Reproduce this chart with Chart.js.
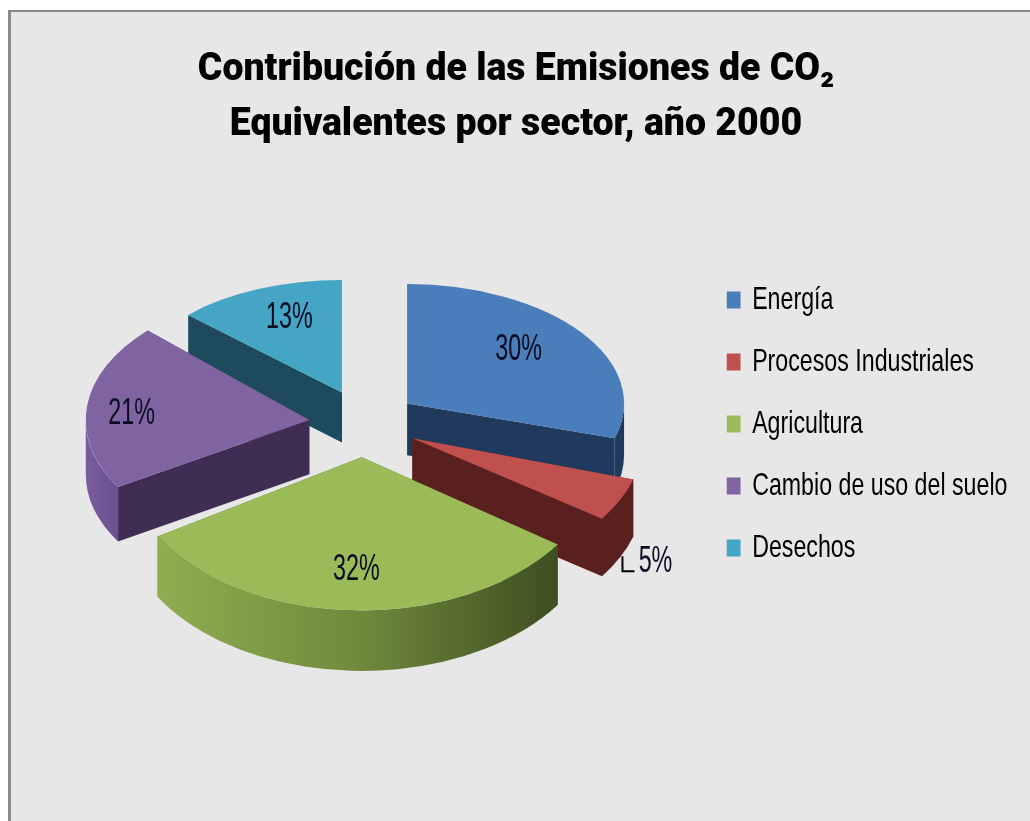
<!DOCTYPE html>
<html>
<head>
<meta charset="utf-8">
<style>
 html, body { margin: 0; background: #fff; }
 #panel { position: absolute; left: 8px; top: 10px; width: 1019px; height: 811px; background: #e7e7e7; border-style: solid; border-color: #8a8a8a; border-width: 2px 0 0 3px; }
 #myChart { position: absolute; left: 0; top: 0; }
</style>
<script src="https://cdn.jsdelivr.net/npm/chart.js@4"></script>
</head>
<body>
<div id="panel"></div>
<canvas id="myChart" width="1030" height="821"></canvas>
<script>
const titleLines = ['Contribución de las Emisiones de CO₂', 'Equivalentes por sector, año 2000'];
const sectors = ['Energía', 'Procesos Industriales', 'Agricultura', 'Cambio de uso del suelo', 'Desechos'];
const shares = [30, 5, 32, 21, 13];
const topColors = ['#4a7ebb', '#c0504d', '#9bbb59', '#8064a2', '#45a5c4'];
const wallColors = ['#1f3a5c', '#5a1f1f', '#4a5f28', '#3f2d54', '#1d4a5c'];
const rimColors = [['#1f3a5c'], ['#5a1f1f'], ['#8fae50', '#6f8a3c', '#3e4e20'], ['#7a5c9e', '#6a5090'], ['#1d4a5c']];
const labelRadius = [0.64, 1.17, 0.72, 0.8, 0.63];
const labelDrop = [-8, 51, 2, 5, -10];

// fake 3d camera, fitted on the picture
const explodeX = 54.4;
const explodeY = 33.7;
const squash = 132 / 225;
const nearX = 0.06;
const nearY = 0.16;
const depth = 55;
const nearDepth = 0.1;

// the original text is squeezed sideways, no narrow font here so scale the boxes
const titleSqueeze = 0.96;
const legendSqueeze = 0.725;
const legendLeft = 705;
const legendMove = 76;

function squeezeBoxes(chart) {
    if (chart.$squeezed) return;
    chart.$squeezed = true;
    const title = chart.titleBlock;
    const drawTitle = title.draw;
    title.draw = function () {
        const c = this.ctx;
        c.save();
        c.translate(516, 1);
        c.scale(titleSqueeze, 1);
        c.translate(-(this.left + this.right) / 2, 0);
        drawTitle.call(this);
        c.restore();
    };
    const legend = chart.legend;
    const drawLegend = legend.draw;
    legend.draw = function () {
        const c = this.ctx;
        c.save();
        c.translate(legendLeft, legendMove);
        c.scale(legendSqueeze, 1);
        c.translate(-this.left, 0);
        drawLegend.call(this);
        c.restore();
    };
}

const pie3d = {
    id: 'pie3d',
    beforeDraw: squeezeBoxes,
    beforeDatasetsDraw(chart) {
        const ctx = chart.ctx;
        const arcs = chart.getDatasetMeta(0).data;
        const views = arcs.map((arc, i) => {
            const mid = (arc.startAngle + arc.endAngle) / 2;
            const near = Math.sin(mid);
            const sx = 1 + nearX * near;
            const sy = squash * (1 + nearY * near);
            return {
                arc, i, mid, near, sx, sy,
                ax: arc.x + explodeX * Math.cos(mid),
                ay: arc.y + explodeY * Math.sin(mid),
                rx: arc.outerRadius * sx,
                ry: arc.outerRadius * sy,
                h: depth * (1 + nearDepth * near),
            };
        });
        views.slice().sort((a, b) => a.ay - b.ay).forEach(v => {
            [v.arc.startAngle, v.arc.endAngle].forEach(angle => {
                const x = v.ax + v.rx * Math.cos(angle);
                const y = v.ay + v.ry * Math.sin(angle);
                ctx.beginPath();
                ctx.moveTo(v.ax, v.ay);
                ctx.lineTo(x, y);
                ctx.lineTo(x, y + v.h);
                ctx.lineTo(v.ax, v.ay + v.h);
                ctx.closePath();
                ctx.fillStyle = wallColors[v.i];
                ctx.fill();
            });
            const from = Math.max(v.arc.startAngle, 0);
            const to = Math.min(v.arc.endAngle, Math.PI);
            if (to > from) {
                const x0 = v.ax + v.rx * Math.cos(to);
                const x1 = v.ax + v.rx * Math.cos(from);
                const grad = ctx.createLinearGradient(x0, 0, x1, 0);
                const stops = rimColors[v.i];
                stops.forEach((c, k) => grad.addColorStop(stops.length > 1 ? k / (stops.length - 1) : 0, c));
                ctx.beginPath();
                ctx.ellipse(v.ax, v.ay, v.rx, v.ry, 0, from, to);
                ctx.ellipse(v.ax, v.ay + v.h, v.rx, v.ry, 0, to, from, true);
                ctx.closePath();
                ctx.fillStyle = grad;
                ctx.fill();
            }
            ctx.save();
            ctx.translate(v.ax, v.ay);
            ctx.scale(v.sx, v.sy);
            ctx.translate(-v.arc.x, -v.arc.y);
            v.arc.draw(ctx);
            ctx.restore();
        });
        views.forEach(v => {
            const f = labelRadius[v.i];
            const x = v.ax + v.rx * f * Math.cos(v.mid);
            const y = v.ay + v.ry * f * Math.sin(v.mid) + labelDrop[v.i];
            ctx.save();
            ctx.translate(x, y);
            ctx.scale(0.63, 1);
            ctx.font = '37px "Liberation Sans"';
            ctx.textAlign = 'center';
            ctx.textBaseline = 'middle';
            ctx.fillStyle = '#0b0b22';
            ctx.fillText(shares[v.i] + '%', 0, 0);
            ctx.restore();
            if (f > 1) {
                ctx.beginPath();
                ctx.moveTo(x - 33, y - 5);
                ctx.lineTo(x - 33, y + 10);
                ctx.lineTo(x - 21, y + 10);
                ctx.strokeStyle = '#000';
                ctx.lineWidth = 2;
                ctx.stroke();
            }
        });
        return false;
    },
};

const config = {
    type: 'pie',
    data: {
        labels: sectors,
        datasets: [{
            data: shares,
            backgroundColor: topColors,
            borderWidth: 0,
            radius: 225,
        }],
    },
    plugins: [pie3d],
    options: {
        responsive: false,
        animation: false,
        events: [],
        layout: { padding: { bottom: 125, left: 124 } },
        plugins: {
            tooltip: { enabled: false },
            title: {
                display: true,
                text: titleLines,
                color: '#000',
                font: { family: 'Roboto', size: 39, weight: '900', lineHeight: 1.4 },
                padding: { top: 42, bottom: 0 },
            },
            legend: {
                position: 'right',
                labels: {
                    color: '#000',
                    boxWidth: 19,
                    boxHeight: 17,
                    padding: 30,
                    font: { family: '"Liberation Sans"', size: 32 },
                },
            },
        },
    },
};

const ctx = document.getElementById('myChart').getContext('2d');
const myChart = new Chart(ctx, config);
</script>
</body>
</html>
